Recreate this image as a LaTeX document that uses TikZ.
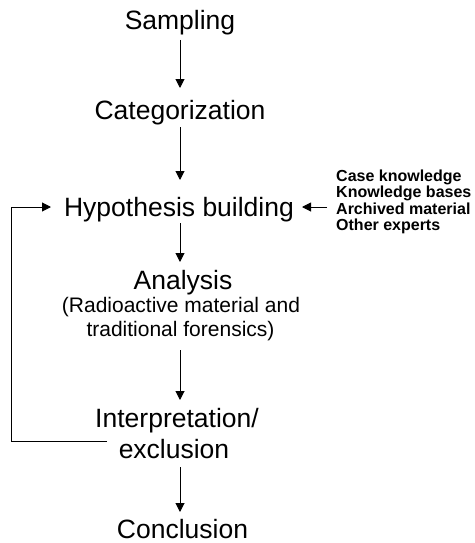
\documentclass[tikz,border=0pt]{standalone}
\usepackage{fontspec}
\setmainfont{Liberation Sans}
\usetikzlibrary{arrows.meta}
\begin{document}
\begin{tikzpicture}[x=1pt,y=-1pt,
  main/.style={font=\fontsize{26.5}{30}\selectfont, inner sep=0pt, anchor=base},
  sub/.style={font=\fontsize{21}{24}\selectfont, inner sep=0pt, anchor=base},
  side/.style={font=\bfseries\fontsize{16}{16.5}\selectfont, inner sep=0pt, anchor=base west},
  arr/.style={-{Triangle[length=9pt,width=9pt]}, line width=1pt},
  ln/.style={line width=1pt}]
\useasboundingbox (0,0) rectangle (474,543);
\node[main] (samp) at (180,30) {Sampling};
\node[main] (cat) at (180,119) {Categorization};
\node[main] (hyp) at (179,216) {Hypothesis building};
\node[side] (k1) at (336,181) {Case knowledge};
\node[side] (k2) at (336,197.5) {Knowledge bases};
\node[side] (k3) at (336,214) {Archived material};
\node[side] (k4) at (336,230.5) {Other experts};
\node[main] (ana) at (183,289) {Analysis};
\node[sub] (sub1) at (181,312) {(Radioactive material and};
\node[sub] (sub2) at (180.5,336) {traditional forensics)};
\node[main] (interp) at (177,427) {Interpretation/};
\node[main] (excl) at (174,458) {exclusion};
\node[main] (concl) at (182.5,538) {Conclusion};
\coordinate (c1) at (180,40);
\coordinate (c2) at (180,88);
\coordinate (c3) at (180,127);
\coordinate (c4) at (180,180);
\coordinate (c5) at (180,223);
\coordinate (c6) at (180,262);
\coordinate (c7) at (180,350);
\coordinate (c8) at (180,400);
\coordinate (c9) at (180,467);
\coordinate (c10) at (180,512);
\draw[arr] (c1) -- (c2);
\draw[arr] (c3) -- (c4);
\draw[arr] (c5) -- (c6);
\draw[arr] (c7) -- (c8);
\draw[arr] (c9) -- (c10);
\coordinate (fb1) at (107,441);
\coordinate (fb2) at (11.5,441);
\coordinate (fb3) at (11.5,207);
\coordinate (fb4) at (51,207);
\draw[arr] (fb1) -- (fb2) -- (fb3) -- (fb4);
\coordinate (r1) at (327,207);
\coordinate (r2) at (302,207);
\draw[arr] (r1) -- (r2);
\end{tikzpicture}
\end{document}
